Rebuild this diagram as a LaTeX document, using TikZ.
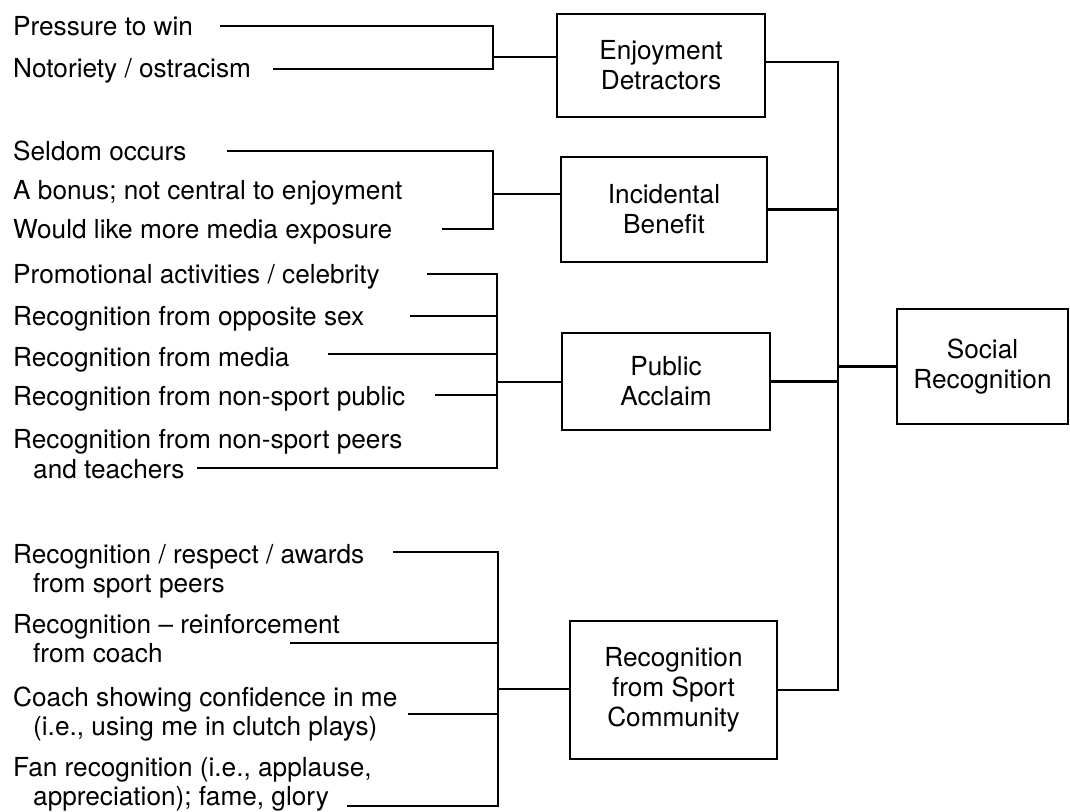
\documentclass[tikz,border=0pt]{standalone}
\usepackage{fontspec}
\setmainfont{TeX Gyre Heros}
\begin{document}
\begin{tikzpicture}[x=1bp,y=-1bp,
  lbl/.style={anchor=base west,inner sep=0pt,font=\fontsize{26.2bp}{30bp}\selectfont},
  boxnode/.style={draw,line width=2.7bp,align=center,inner sep=0pt,outer sep=0pt,
    font=\fontsize{26.2bp}{30bp}\selectfont},
  conn/.style={line width=2.3bp,line join=miter}]
\useasboundingbox (0,0) rectangle (1070,812);

% boxes
\node[boxnode,minimum width=208bp,minimum height=103bp] (ed) at (661,65.5) {Enjoyment\\Detractors};
\node[boxnode,minimum width=206bp,minimum height=105bp] (ib) at (664,209.5) {Incidental\\Benefit};
\node[boxnode,minimum width=208bp,minimum height=97bp] (pa) at (666,381.5) {Public\\Acclaim};
\node[boxnode,minimum width=207bp,minimum height=138bp] (rs) at (673.5,690) {Recognition\\from Sport\\Community};
\node[boxnode,minimum width=171bp,minimum height=115bp] (sr) at (982.5,366.5) {Social\\Recognition};

% left texts
\node[lbl] (t1) at (13,36) {Pressure to win};
\node[lbl] (t2) at (13,78) {Notoriety / ostracism};
\node[lbl] (t3) at (13,160) {Seldom occurs};
\node[lbl] (t4) at (13,199) {A bonus; not central to enjoyment};
\node[lbl] (t5) at (13,238) {Would like more media exposure};
\node[lbl] (t6) at (13,283) {Promotional activities / celebrity};
\node[lbl] (t7) at (13,325) {Recognition from opposite sex};
\node[lbl] (t8) at (13,366) {Recognition from media};
\node[lbl] (t9) at (13,405) {Recognition from non-sport public};
\node[lbl] (t10a) at (13,448) {Recognition from non-sport peers};
\node[lbl] (t10b) at (33,478) {and teachers};
\node[lbl] (t11a) at (13,563) {Recognition / respect / awards};
\node[lbl] (t11b) at (33,592) {from sport peers};
\node[lbl] (t12a) at (13,633) {Recognition – reinforcement};
\node[lbl] (t12b) at (33,662) {from coach};
\node[lbl] (t13a) at (13,706) {Coach showing confidence in me};
\node[lbl] (t13b) at (33,735) {(i.e., using me in clutch plays)};
\node[lbl] (t14a) at (13,776) {Fan recognition (i.e., applause,};
\node[lbl] (t14b) at (33,805) {appreciation); fame, glory};

% group 1
\coordinate (a1) at (220,26);
\coordinate (a2) at (273,69);
\coordinate (bx1) at (493,57);
\draw[conn] (a1) -- (a1 -| bx1) -- (a2 -| bx1) -- (a2);
\draw[conn] (bx1) -- (bx1 -| ed.west);

% group 2
\coordinate (a3) at (227,151);
\coordinate (a5) at (442,229);
\coordinate (bx2) at (493,194);
\draw[conn] (a3) -- (a3 -| bx2) -- (a5 -| bx2) -- (a5);
\draw[conn] (bx2) -- (bx2 -| ib.west);

% group 3
\coordinate (p1) at (427,274);
\coordinate (p2) at (410,316);
\coordinate (p3) at (328,354);
\coordinate (p4) at (435,395);
\coordinate (p5) at (197,468);
\coordinate (bx3) at (497,382);
\draw[conn] (p1) -- (p1 -| bx3) -- (p5 -| bx3) -- (p5);
\draw[conn] (p2) -- (p2 -| bx3);
\draw[conn] (p3) -- (p3 -| bx3);
\draw[conn] (p4) -- (p4 -| bx3);
\draw[conn] (bx3) -- (bx3 -| pa.west);

% group 4
\coordinate (q1) at (393,552);
\coordinate (q2) at (290,643);
\coordinate (q3) at (408,714);
\coordinate (q4) at (347,806);
\coordinate (bx4) at (498,689);
\draw[conn] (q1) -- (q1 -| bx4) -- (q4 -| bx4) -- (q4);
\draw[conn] (q2) -- (q2 -| bx4);
\draw[conn] (q3) -- (q3 -| bx4);
\draw[conn] (bx4) -- (bx4 -| rs.west);

% trunk
\coordinate (kE) at (838,62);
\draw[conn] (kE -| ed.east) -- (kE) -- (rs.east -| kE) -- (rs.east);
\draw[conn] (ib.east) -- (ib.east -| kE);
\draw[conn] (pa.east) -- (pa.east -| kE);
\draw[conn] (sr.west -| kE) -- (sr.west);
\end{tikzpicture}
\end{document}
